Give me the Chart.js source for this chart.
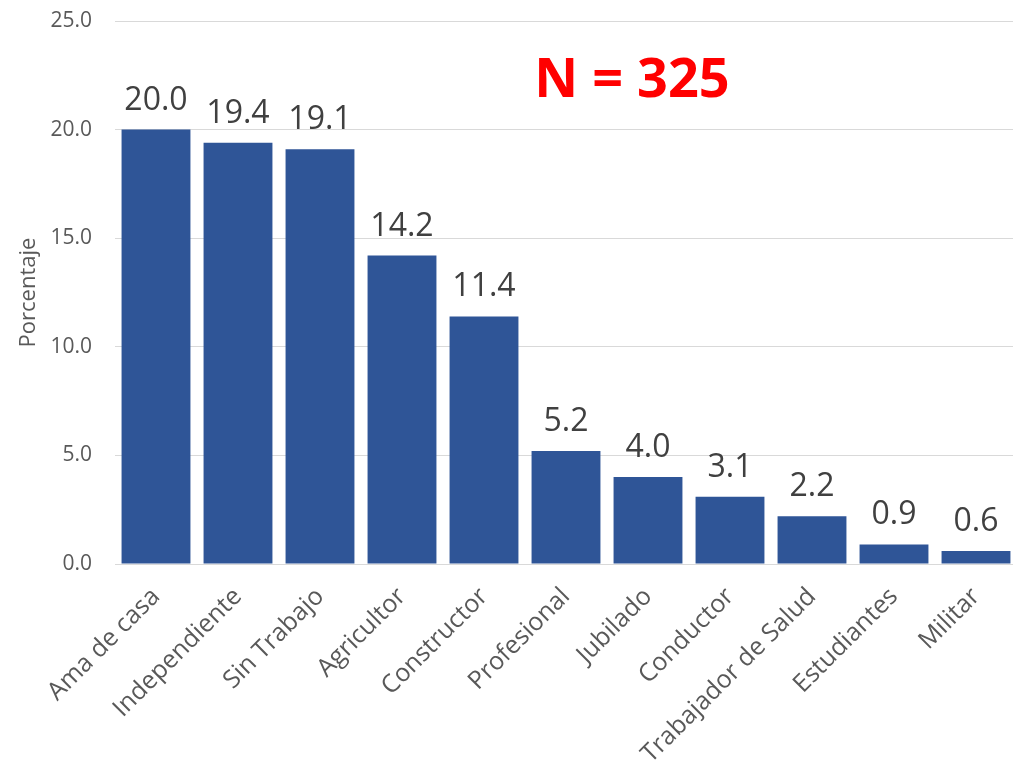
<!DOCTYPE html>
<html>
<head>
<meta charset="utf-8">
<script src="https://cdn.jsdelivr.net/npm/chart.js@4.4.1/dist/chart.umd.min.js"></script>
<style>
  html, body { margin: 0; padding: 0; background: #fff; overflow: hidden; width: 1013px; height: 769px; }
  canvas { display: block; }
</style>
</head>
<body>
<canvas id="c" width="1020" height="769"></canvas>
<script>
const categories = ["Ama de casa", "Independiente", "Sin Trabajo", "Agricultor", "Constructor", "Profesional", "Jubilado", "Conductor", "Trabajador de Salud", "Estudiantes", "Militar"];
const values = [20.0, 19.4, 19.1, 14.2, 11.4, 5.2, 4.0, 3.1, 2.2, 0.9, 0.6];
const yTicks = [0, 5, 10, 15, 20, 25];
const annotation = "N = 325";
const yTitle = "Porcentaje";

const FONT = "'Open Sans', sans-serif";

const labelPlugin = {
  id: 'barLabels',
  afterDatasetsDraw(chart) {
    const ctx = chart.ctx;
    const meta = chart.getDatasetMeta(0);
    ctx.save();
    ctx.font = "32px " + FONT;
    ctx.fillStyle = "#404040";
    ctx.textAlign = "center";
    ctx.textBaseline = "alphabetic";
    meta.data.forEach((bar, i) => {
      ctx.fillText(values[i].toFixed(1), bar.x, bar.y - 20);
    });
    // annotation
    ctx.font = "bold 54px " + FONT;
    ctx.fillStyle = "#FF0000";
    ctx.fillText(annotation, 632, 97);
    ctx.restore();
  }
};

new Chart(document.getElementById('c'), {
  type: 'bar',
  data: {
    labels: categories,
    datasets: [{
      data: values,
      backgroundColor: '#2F5597',
      borderWidth: 0,
      categoryPercentage: 1.0,
      barPercentage: 0.84
    }]
  },
  options: {
    responsive: false,
    animation: false,
    layout: { padding: { left: 0, right: 3, top: 21, bottom: 0 } },
    plugins: {
      legend: { display: false },
      tooltip: { enabled: false }
    },
    scales: {
      x: {
        grid: { display: false, drawTicks: false },
        border: { display: true, color: '#D9D9D9', width: 1 },
        ticks: {
          autoSkip: false,
          maxRotation: 45,
          minRotation: 45,
          padding: 18,
          color: '#595959',
          font: { family: FONT, size: 25 }
        },
        afterFit(scale) { scale.height = 205; scale.paddingTop = 0; scale.paddingBottom = 0; }
      },
      y: {
        min: 0,
        max: 25,
        afterBuildTicks(scale) { scale.ticks = yTicks.map(v => ({ value: v })); },
        grid: { color: '#D9D9D9', lineWidth: 1, drawTicks: false },
        border: { display: false },
        ticks: {
          padding: 23,
          color: '#595959',
          font: { family: FONT, size: 21 },
          callback: (v) => Number(v).toFixed(1)
        },
        title: {
          display: true,
          text: yTitle,
          color: '#595959',
          font: { family: FONT, size: 22 },
          padding: { top: 16, bottom: 0 }
        },
        afterFit(scale) { scale.width = 115; scale.paddingTop = 0; scale.paddingBottom = 0; }
      }
    }
  },
  plugins: [labelPlugin]
});
</script>
</body>
</html>
